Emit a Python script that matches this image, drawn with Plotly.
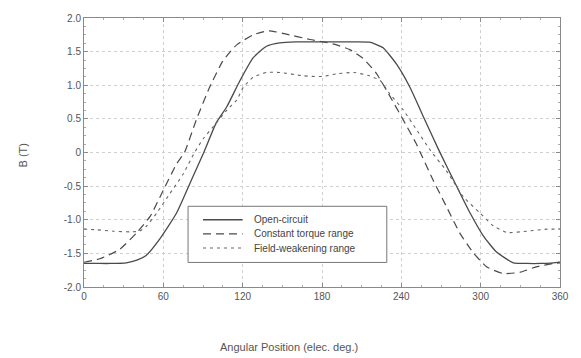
import plotly.graph_objects as go

# Open-circuit
oc_x = [0, 10, 20, 32, 40, 47, 57.5, 70, 81, 91, 100, 108, 118, 128, 138, 148, 160, 180, 200, 216,
        226, 236.5, 246.5, 256.5, 268, 282, 292, 302, 312, 324.7, 335, 345, 355, 360]
oc_y = [-1.65, -1.65, -1.65, -1.64, -1.60, -1.53, -1.28, -0.90, -0.42, 0.02, 0.44, 0.68, 1.07, 1.41,
        1.58, 1.63, 1.645, 1.645, 1.645, 1.64, 1.56, 1.31, 0.97, 0.54, 0.05, -0.51, -0.90, -1.24,
        -1.48, -1.64, -1.65, -1.65, -1.64, -1.63]

# Constant torque range
ct_x = [0, 12, 27, 40, 50, 60, 70, 76, 85, 95, 105, 115.5, 128, 140, 153, 171, 181, 191, 201, 211,
        221, 231, 241, 251, 264, 274, 284, 294, 304.5, 317, 330, 342, 355, 360]
ct_y = [-1.63, -1.58, -1.44, -1.19, -0.95, -0.56, -0.17, 0.0, 0.49, 0.97, 1.36, 1.60, 1.75, 1.81,
        1.76, 1.68, 1.645, 1.60, 1.53, 1.40, 1.18, 0.85, 0.50, 0.14, -0.41, -0.80, -1.19, -1.48,
        -1.70, -1.80, -1.78, -1.70, -1.65, -1.64]

# Field-weakening range
fw_x = [0, 10, 22, 35, 42, 47, 55, 65, 75, 83, 90, 98, 108, 115.5, 120.5, 128, 138, 148, 166, 180,
        191, 204, 216, 224, 231, 241.5, 251.5, 262, 274, 287, 299.5, 309.5, 320, 335, 350, 360]
fw_y = [-1.14, -1.15, -1.17, -1.18, -1.17, -1.10, -0.90, -0.61, -0.32, -0.02, 0.20, 0.39, 0.63,
        0.78, 0.97, 1.12, 1.19, 1.19, 1.14, 1.13, 1.17, 1.19, 1.14, 1.07, 0.88, 0.63, 0.34, 0.03,
        -0.27, -0.66, -0.90, -1.09, -1.19, -1.17, -1.14, -1.14]

series_names = ["Open-circuit", "Constant torque range", "Field-weakening range"]

x_ticks = [0, 60, 120, 180, 240, 300, 360]
y_ticks = [2.0, 1.5, 1.0, 0.5, 0, -0.5, -1.0, -1.5, -2.0]
y_tick_labels = ["2.0", "1.5", "1.0", "0.5", "0", "-0.5", "-1.0", "-1.5", "-2.0"]

FONT = "Liberation Sans, Arial, sans-serif"
LC = "#4a4a4a"
styles = [
    dict(color=LC, width=1.3),
    dict(color=LC, width=1.2, dash="8px,5px"),
    dict(color="#666", width=1.1, dash="3px,4px"),
]

fig = go.Figure()
for xs, ys, nm, st in zip([oc_x, ct_x, fw_x], [oc_y, ct_y, fw_y], series_names, styles):
    fig.add_trace(go.Scatter(x=xs, y=ys, mode="lines", name=nm, showlegend=False,
                             hoverinfo="skip",
                             line=dict(shape="spline", smoothing=0.5, **st)))

axis_common = dict(showline=True, linecolor="#8a8a8a", linewidth=1, mirror="ticks",
                   showgrid=True, gridcolor="#cfcfcf", griddash="dot", gridwidth=1,
                   zeroline=False, ticks="inside", ticklen=4, tickcolor="#8a8a8a",
                   ticklabeloverflow="allow",
                   tickfont=dict(family=FONT, size=10, color="#555"))

fig.update_xaxes(range=[0, 360], tickvals=x_ticks, minor=dict(ticks="inside", ticklen=2,
                 tickcolor="#aaa", dtick=15, showgrid=False), **axis_common)
fig.update_yaxes(range=[-2, 2], tickvals=y_ticks, ticktext=y_tick_labels,
                 minor=dict(ticks="inside", ticklen=2, tickcolor="#aaa", dtick=0.125, showgrid=False),
                 **axis_common)

W, H = 581, 358
ML, MR, MT, MB = 84, 21, 13, 71
pw, ph = W - ML - MR, H - MT - MB

def px_to_paper(px, py):
    return (px - ML) / pw, (H - MB - py) / ph

shapes = []
annotations = []
# custom legend (data coordinates)
shapes.append(dict(type="rect", xref="x", yref="y", x0=78.7, x1=229, y0=-1.635, y1=-0.80,
                   line=dict(color="#777", width=1), fillcolor="white", layer="above"))
leg_rows = [-1.0, -1.21, -1.42]
for nm, st, yy in zip(series_names, styles, leg_rows):
    shapes.append(dict(type="line", xref="x", yref="y", x0=90, x1=120, y0=yy, y1=yy,
                       line=dict(color=st["color"], width=st["width"], dash=st.get("dash", "solid")),
                       layer="above"))
    annotations.append(dict(text=nm, xref="x", yref="y", x=127, y=yy, xanchor="left",
                            yanchor="middle", showarrow=False,
                            font=dict(family=FONT, size=10, color="#444")))

tx, ty = px_to_paper(289, 348)
annotations.append(dict(text="Angular Position (elec. deg.)", x=tx, y=ty, xref="paper", yref="paper",
                        xanchor="center", yanchor="middle", showarrow=False,
                        font=dict(family=FONT, size=11, color="#555")))
bx, by = px_to_paper(23, 153)
annotations.append(dict(text="B (T)", x=bx, y=by, xref="paper", yref="paper", textangle=-90,
                        xanchor="center", yanchor="middle", showarrow=False,
                        font=dict(family=FONT, size=11, color="#555")))

fig.update_layout(
    width=W, height=H,
    margin=dict(l=ML, r=MR, t=MT, b=MB),
    paper_bgcolor="white", plot_bgcolor="white",
    font=dict(family=FONT, size=10, color="#555"),
    showlegend=False,
    hovermode=False,
    shapes=shapes,
    annotations=annotations,
)

fig.write_html("out.html", config={"displayModeBar": False, "staticPlot": True},
               post_script="document.body.style.margin='0px';document.body.style.overflow='hidden';")
